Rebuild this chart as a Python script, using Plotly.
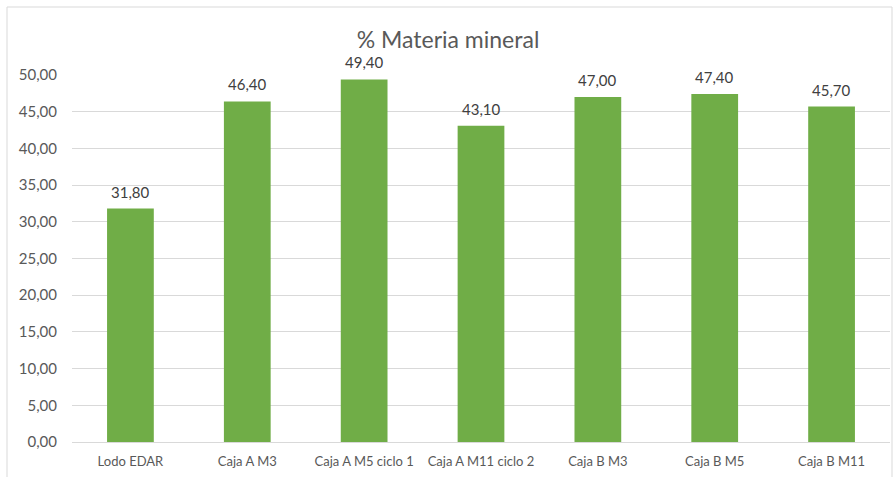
import plotly.graph_objects as go

categories = ["Lodo EDAR", "Caja A M3", "Caja A M5 ciclo 1", "Caja A M11 ciclo 2",
              "Caja B M3", "Caja B M5", "Caja B M11"]
values = [31.80, 46.40, 49.40, 43.10, 47.00, 47.40, 45.70]
y_ticks = [0, 5, 10, 15, 20, 25, 30, 35, 40, 45, 50]

W, H = 896, 477
L, R, T, B = 72, 6, 75, 35
pw, ph = W - L - R, H - T - B

def px_x(x):
    return (x - L) / pw

def px_y(y):
    return (H - B - y) / ph

font = "Lato, 'Open Sans', sans-serif"

fig = go.Figure(go.Bar(
    x=categories,
    y=values,
    marker=dict(color="#70AD47", line=dict(width=0)),
    hoverinfo="x+y",
))

# value labels above each bar
for c, v in zip(categories, values):
    fig.add_annotation(x=c, y=v, text=f"{v:.2f}".replace(".", ","),
                       showarrow=False, yanchor="middle", yshift=17,
                       font=dict(size=15, color="#404040", family=font))

fig.update_layout(
    width=W, height=H,
    margin=dict(l=L, r=R, t=T, b=B),
    paper_bgcolor="white",
    plot_bgcolor="white",
    separators=",.",
    bargap=0.6,
    showlegend=False,
    font=dict(family=font, color="#595959"),
    title=dict(text="% Materia mineral", x=0.5, xanchor="center",
               y=1 - 40 / H, yanchor="middle",
               font=dict(size=23, color="#595959", family=font)),
    xaxis=dict(showgrid=False, showline=False, ticks="",
               ticklabelstandoff=10,
               tickfont=dict(size=13, color="#595959")),
    yaxis=dict(range=[0, 50], tickvals=y_ticks, tickformat=".2f",
               showgrid=True, gridcolor="#D9D9D9", gridwidth=1,
               zeroline=True, zerolinecolor="#D9D9D9", zerolinewidth=1,
               showline=False, ticks="", ticklabelstandoff=14,
               tickfont=dict(size=15, color="#595959")),
    shapes=[dict(type="rect", xref="paper", yref="paper",
                 x0=px_x(7), x1=px_x(892), y0=px_y(485), y1=px_y(7),
                 line=dict(color="#D9D9D9", width=1), layer="below")],
)

fig.write_html("out.html")
